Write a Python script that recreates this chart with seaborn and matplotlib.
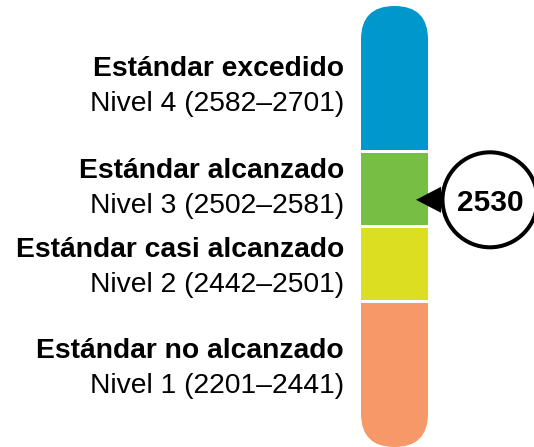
import matplotlib.pyplot as plt
import seaborn as sns
import numpy as np
from matplotlib.patches import FancyBboxPatch, Circle, Polygon

# levels, bottom to top
level_titles = ["Estándar no alcanzado", "Estándar casi alcanzado",
                "Estándar alcanzado", "Estándar excedido"]
level_names = ["Nivel 1", "Nivel 2", "Nivel 3", "Nivel 4"]
score_lo = [2201, 2442, 2502, 2582]
score_hi = [2441, 2501, 2581, 2701]
colors = ["#F79868", "#DCDE22", "#77BE44", "#0098CC"]
band_weight = [2, 1, 1, 2]
student_score = 2530

sns.set_theme(style="white")
plt.rcParams['font.family'] = ['Liberation Sans', 'DejaVu Sans']

fig = plt.figure(figsize=(5.34, 4.47), dpi=100)
ax = fig.add_axes([0, 0, 1, 1])
ax.set_xlim(0, 534)
ax.set_ylim(447, 0)
ax.axis("off")

# column layout (pixel units)
bar_x, bar_w = 361, 67
col_top, col_bottom, gap = 6, 447, 3
unit = (col_bottom - col_top - gap * (len(band_weight) - 1)) / sum(band_weight)

bottoms, tops = [], []
y = col_bottom
for w in band_weight:
    bottoms.append(y)
    y -= w * unit
    tops.append(y)
    y -= gap
bottoms = np.array(bottoms)
tops = np.array(tops)

bars = ax.bar(bar_x + bar_w / 2, bottoms - tops, bottom=tops, width=bar_w,
              color=colors, linewidth=0)

clip = FancyBboxPatch((bar_x, col_top), bar_w, col_bottom - col_top,
                      boxstyle=f"round,pad=0,rounding_size={bar_w / 2}",
                      transform=ax.transData, facecolor="none", edgecolor="none")
for b in bars:
    b.set_clip_path(clip)

# labels to the left
nudge = [-17, -7, -11, -2]
for i in range(len(level_titles)):
    base = (tops[i] + bottoms[i]) / 2 + nudge[i]
    ax.text(344, base, level_titles[i], ha="right", va="baseline",
            fontsize=20.3, fontweight="bold", color="black")
    ax.text(344, base + 35, f"{level_names[i]} ({score_lo[i]}\u2013{score_hi[i]})",
            ha="right", va="baseline", fontsize=20.3, color="black")

# marker for the student score
k = next(i for i in range(len(score_lo)) if score_lo[i] <= student_score <= score_hi[i])
frac = (student_score - score_lo[k]) / (score_hi[k] + 1 - score_lo[k])
my = bottoms[k] - frac * (bottoms[k] - tops[k])

cx, r = 490, 47.5
ax.add_patch(Polygon([(416, my), (441, my - 13), (441, my + 13)],
                     closed=True, facecolor="black", edgecolor="none", zorder=3))
ax.add_patch(Circle((cx, my), r, facecolor="white", edgecolor="black",
                    linewidth=2.9, zorder=4))
ax.text(cx, my + 11, f"{student_score}", ha="center", va="baseline",
        fontsize=21.5, fontweight="bold", color="black", zorder=5)

fig.savefig("out.png", dpi=100)
